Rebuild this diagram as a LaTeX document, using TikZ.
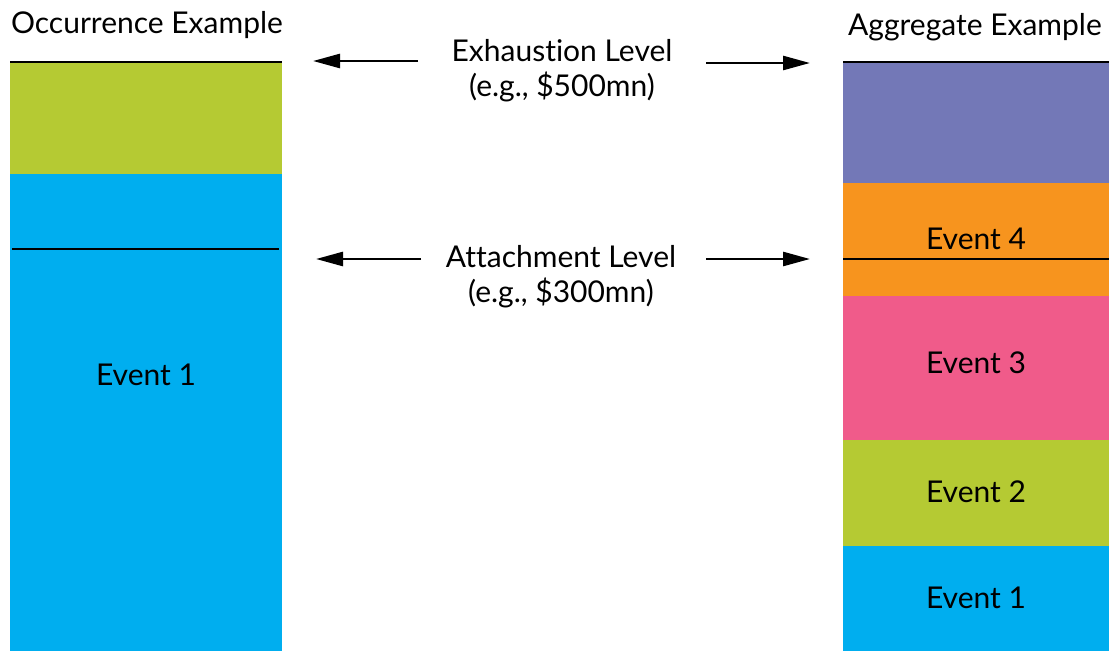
\documentclass[tikz,border=0pt]{standalone}
\usepackage{fontspec}
\setmainfont{Lato}[RawFeature=-liga]
\usetikzlibrary{arrows.meta}
\definecolor{cgreen}{HTML}{B5CA33}
\definecolor{cblue}{HTML}{00AEEF}
\definecolor{cpurple}{HTML}{7378B7}
\definecolor{corange}{HTML}{F7941E}
\definecolor{cpink}{HTML}{F05B8A}
\tikzset{
  lbl/.style={font=\fontsize{30}{35}\selectfont, inner sep=0pt, align=center},
  lvl/.style={line width=2.2pt, black},
  arr/.style={line width=2.6pt, -{Triangle[length=27pt,width=14pt]}},
}
\begin{document}
\begin{tikzpicture}[x=1pt,y=-1pt]
\useasboundingbox (0,0) rectangle (1109,651);
% left bar
\fill[cgreen] (10,63) rectangle (282,174);
\fill[cblue] (10,174) rectangle (282,651);
\draw[lvl] (10,62) -- (282,62);
\draw[lvl] (12,249) -- (279,249);
% right bar
\fill[cpurple] (843,63) rectangle (1109,183);
\fill[corange] (843,183) rectangle (1109,296);
\fill[cpink] (843,296) rectangle (1109,440);
\fill[cgreen] (843,440) rectangle (1109,546);
\fill[cblue] (843,546) rectangle (1109,651);
\draw[lvl] (843,62) -- (1109,62);
\draw[lvl] (843,259) -- (1109,259);
% titles
\node[lbl] (occ) at (147,25) {Occurrence Example};
\node[lbl] (agg) at (975,27) {Aggregate Example};
% event labels
\node[lbl] (le1) at (146,375) {Event 1};
\node[lbl] (re4) at (976,239) {Event 4};
\node[lbl] (re3) at (976,363) {Event 3};
\node[lbl] (re2) at (976,492) {Event 2};
\node[lbl] (re1) at (976,598) {Event 1};
% level labels
\node[lbl] (exh) at (562,71) {Exhaustion Level\\(e.g., \$500mn)};
\node[lbl] (att) at (561,277) {Attachment Level\\(e.g., \$300mn)};
\coordinate (exhL) at (418,61);
\coordinate (exhLt) at (313,61);
\coordinate (exhR) at (706,63);
\coordinate (exhRt) at (810,63);
\coordinate (attL) at (421,259);
\coordinate (attLt) at (316,259);
\coordinate (attR) at (706,259);
\coordinate (attRt) at (810,259);
\draw[arr] (exhL) -- (exhLt);
\draw[arr] (exhR) -- (exhRt);
\draw[arr] (attL) -- (attLt);
\draw[arr] (attR) -- (attRt);
\end{tikzpicture}
\end{document}
